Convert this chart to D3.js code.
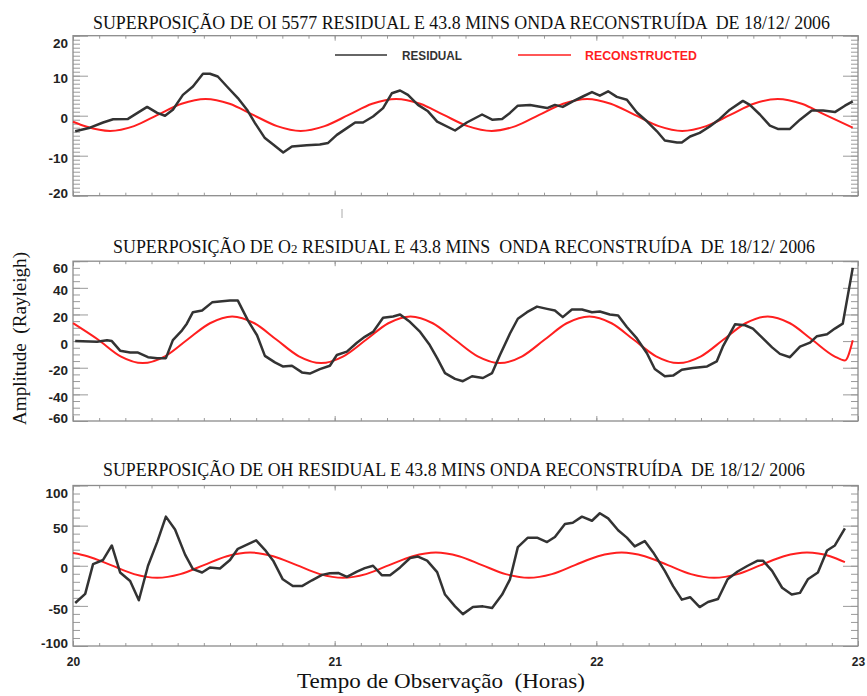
<!DOCTYPE html>
<html>
<head>
<meta charset="utf-8">
<script src="https://cdn.jsdelivr.net/npm/d3@7"></script>
<style>
  html, body { margin: 0; padding: 0; background: #fff; }
  svg text { white-space: pre; }
</style>
</head>
<body>
<div id="chart"></div>
<script>
// tempo em minutos depois das 20:00
const hourTicks = [20, 21, 22, 23];
const oiTicks = [-20, -10, 0, 10, 20];
const o2Ticks = [-60, -40, -20, 0, 20, 40, 60];
const ohTicks = [-100, -50, 0, 50, 100];

const oiTime = [0.5, 3.9, 6.9, 9.2, 12.6, 17.0, 19.3, 21.1, 22.9, 25.2, 27.5, 29.8, 31.4, 33.2, 35.3, 37.8, 39.9, 41.7, 44.0, 45.9, 48.2, 50.2, 53.6, 56.6, 58.5, 60.5, 62.8, 64.7, 66.5, 68.8, 71.1, 73.1, 75.0, 76.8, 79.1, 81.4, 83.5, 87.6, 90.3, 93.8, 96.1, 98.4, 100.2, 102.0, 104.8, 108.7, 110.5, 112.3, 114.6, 116.9, 119.0, 120.8, 122.7, 124.7, 127.0, 129.3, 131.6, 133.9, 135.7, 138.5, 139.6, 141.5, 143.7, 146.0, 148.3, 150.6, 153.6, 155.2, 157.5, 159.8, 161.6, 164.4, 166.7, 169.4, 172.0, 174.7, 177.0, 178.8];
const oiResidual = [-3.9, -3.0, -1.7, -0.9, -0.8, 2.2, 0.7, 0.0, 1.5, 5.2, 7.3, 10.5, 10.5, 9.8, 7.3, 4.4, 1.5, -1.8, -5.6, -7.2, -9.2, -7.7, -7.4, -7.2, -6.8, -4.8, -3.1, -1.7, -1.7, -0.2, 1.9, 5.6, 6.3, 5.2, 2.7, 1.1, -1.5, -3.7, -1.7, 0.3, -1.0, -0.8, 0.7, 2.5, 2.7, 1.9, 2.7, 2.2, 3.6, 4.8, 5.9, 5.0, 6.1, 4.7, 4.0, 0.8, -1.4, -3.9, -6.2, -6.7, -6.7, -5.2, -4.3, -2.7, -0.8, 1.5, 3.7, 2.7, 0.3, -2.5, -3.3, -3.3, -1.0, 1.3, 1.3, 0.9, 2.5, 3.6];
const oiReconTime = [0, 3.0, 8.5, 14.0, 19.4, 24.9, 30.4, 35.9, 41.3, 46.8, 52.2, 57.7, 63.2, 68.6, 74.1, 79.6, 85.0, 90.5, 96.0, 101.5, 106.9, 112.4, 117.9, 123.3, 128.8, 134.3, 139.7, 145.2, 150.7, 156.1, 161.6, 167.1, 172.5, 178.8];
const oiReconstructed = [-1.5, -2.7, -3.8, -2.6, 0.2, 3.0, 4.2, 3.0, 0.2, -2.6, -3.8, -2.6, 0.2, 3.0, 4.2, 3.0, 0.2, -2.6, -3.8, -2.6, 0.2, 3.0, 4.2, 3.0, 0.2, -2.6, -3.8, -2.6, 0.2, 3.0, 4.2, 3.0, 0.2, -3.0];

const o2Time = [0.5, 5.5, 7.8, 8.9, 10.8, 13.1, 14.9, 17.2, 19.3, 21.3, 22.9, 25.0, 26.1, 27.5, 29.6, 31.9, 34.2, 36.0, 37.8, 40.1, 42.2, 44.0, 46.3, 48.1, 50.2, 52.5, 54.3, 56.6, 58.9, 60.5, 62.8, 65.1, 66.9, 68.8, 71.1, 73.4, 75.0, 77.3, 79.6, 81.8, 83.5, 85.3, 87.6, 89.4, 91.5, 94.0, 96.1, 97.9, 100.2, 102.0, 104.1, 106.4, 108.7, 110.5, 112.3, 114.4, 116.7, 119.0, 120.8, 123.1, 125.0, 127.0, 129.3, 131.6, 133.4, 135.7, 137.6, 139.6, 142.1, 145.4, 147.6, 149.0, 151.8, 154.1, 155.9, 158.2, 160.3, 162.1, 164.4, 166.7, 169.0, 170.6, 172.9, 174.7, 176.5, 178.8];
const o2Residual = [0, -0.5, 0.7, 0, -7.2, -8.6, -8.6, -12.1, -12.8, -12.8, 0.7, 8.1, 13.1, 21.7, 23, 29.1, 29.9, 30.4, 30.4, 15.6, 4.4, -11.1, -16, -19, -18.5, -23.5, -24.4, -21, -18.5, -10.4, -7.9, -1.2, 3.2, 6.9, 17.5, 18.5, 20, 14.3, 6.9, -3, -12.8, -24, -28.4, -30.1, -26.4, -27.7, -24, -10.4, 5.7, 16.8, 21.7, 25.9, 24.2, 23, 18, 23.7, 23.7, 21.7, 22.2, 20, 19.3, 10.6, 2, -9.1, -21, -26.4, -25.9, -21.5, -20.2, -19, -15.3, -4.2, 12.6, 11.9, 9.4, 2, -4.7, -9.6, -12.1, -4.2, -1.2, 3.7, 5.2, 9.4, 13.1, 55];
const o2ReconTime = [0, 5.8, 10.9, 16.0, 21.1, 26.2, 31.4, 36.5, 41.6, 46.7, 51.8, 56.9, 62.0, 67.2, 72.3, 77.4, 82.5, 87.6, 92.8, 97.9, 103.0, 108.1, 113.2, 118.4, 123.5, 128.6, 133.7, 138.8, 144.0, 149.1, 154.2, 159.3, 164.4, 169.5, 174.6, 177.0, 178.8];
const o2Reconstructed = [13.5, 1, -11.4, -16.5, -11.4, 1, 13.4, 18.5, 13.4, 1, -11.4, -16.5, -11.4, 1, 13.4, 18.5, 13.4, 1, -11.4, -16.5, -11.4, 1, 13.4, 18.5, 13.4, 1, -11.4, -16.5, -11.4, 1, 13.4, 18.5, 13.4, 1, -11.4, -14.5, 0.7];

const ohTime = [0.5, 2.8, 4.6, 6.9, 8.9, 10.8, 13.1, 15.1, 17.2, 19.3, 21.3, 23.4, 25.7, 27.5, 29.6, 31.4, 33.7, 36.0, 37.8, 39.9, 42.0, 44.0, 45.9, 48.1, 50.4, 52.5, 54.8, 57.1, 58.9, 60.8, 62.8, 65.1, 66.9, 68.8, 70.8, 72.7, 75.0, 77.3, 79.1, 81.2, 83.5, 85.3, 87.6, 89.4, 91.7, 94.0, 96.1, 98.4, 100.2, 102.0, 104.3, 106.4, 108.7, 110.5, 112.8, 114.6, 116.7, 119.0, 120.8, 122.7, 125.0, 127.0, 128.8, 131.1, 133.0, 135.7, 137.6, 139.6, 141.5, 143.7, 145.6, 147.9, 150.1, 152.4, 154.7, 157.0, 158.2, 160.3, 162.6, 164.8, 166.7, 168.5, 170.8, 172.9, 174.7, 177.0];
const ohResidual = [-46.4, -35, 2.1, 7.2, 25.3, -8.4, -19, -43, 0, 29.5, 61.2, 45.2, 13.9, -4.2, -8.4, -2.1, -3.4, 7.2, 21.1, 26.2, 31.6, 19.8, 6.3, -16.9, -25.3, -25.3, -18.1, -11.4, -9.3, -8.9, -13.9, -7.2, -3, 0, -11.8, -11.8, -2.1, 9.7, 11.4, 6.3, -8, -35.9, -50.6, -60.3, -51.5, -50.6, -52.7, -35.9, -16.9, 23.2, 35, 35, 29.5, 35.9, 51.9, 53.6, 61.2, 56.1, 65.4, 59.1, 44.3, 35, 24.1, 30.8, 16.9, -6.3, -25.3, -42.2, -39.2, -51.5, -45.2, -41.4, -16.9, -7.2, 0, 6.3, 6.3, -6.3, -27.4, -35.9, -33.8, -16.9, -8.4, 19, 25.3, 46.5];
const ohReconTime = [0, 3.3, 8.7, 14.0, 19.3, 24.6, 30.0, 35.3, 40.6, 45.9, 51.3, 56.6, 61.9, 67.2, 72.5, 77.9, 83.2, 88.5, 93.8, 99.2, 104.5, 109.8, 115.1, 120.4, 125.8, 131.1, 136.4, 141.7, 147.0, 152.4, 157.7, 163.0, 168.3, 173.6, 177.0];
const ohReconstructed = [15.8, 11.9, 0.8, -10.4, -15, -10.4, 0.8, 11.9, 16.5, 11.9, 0.8, -10.4, -15, -10.4, 0.8, 11.9, 16.5, 11.9, 0.8, -10.4, -15, -10.4, 0.8, 11.9, 16.5, 11.9, 0.8, -10.4, -15, -10.4, 0.8, 11.9, 16.5, 11.9, 4.5];

const width = 867, height = 696;
const left = 73, right = 858;
const BLACK = "#333333", RED = "#ff1f1f", AXIS = "#9a9a9a";

const panels = [
    {
        title: ["SUPERPOSIÇÃO DE OI 5577 RESIDUAL E 43.8 MINS ONDA RECONSTRUÍDA  DE 18/12/ 2006"],
        tx: 93, tw: 737, ty: 29,
        ticks: oiTicks, minorStep: 1, top: 35.7, bottom: 195.7,
        resT: oiTime, res: oiResidual, recT: oiReconTime, rec: oiReconstructed
    },
    {
        title: ["SUPERPOSIÇÃO DE O", "2", " RESIDUAL E 43.8 MINS  ONDA RECONSTRUÍDA  DE 18/12/ 2006"],
        tx: 113, tw: 702, ty: 253,
        ticks: o2Ticks, minorStep: 5, top: 261.2, bottom: 421,
        resT: o2Time, res: o2Residual, recT: o2ReconTime, rec: o2Reconstructed
    },
    {
        title: ["SUPERPOSIÇÃO DE OH RESIDUAL E 43.8 MINS ONDA RECONSTRUÍDA  DE 18/12/ 2006"],
        tx: 103, tw: 702, ty: 476,
        ticks: ohTicks, minorStep: 10, top: 485.5, bottom: 646,
        resT: ohTime, res: ohResidual, recT: ohReconTime, rec: ohReconstructed
    }
];

const svg = d3.select("#chart").append("svg")
    .attr("width", width)
    .attr("height", height);

const x = d3.scaleLinear().domain([20, 23]).range([left, right]);
const minorHours = d3.range(20, 23.001, 0.1);

function styleAxis(sel) {
    sel.select(".domain").remove();
    sel.selectAll("line").attr("stroke", AXIS).attr("stroke-width", 1);
}

panels.forEach((p, i) => {
    const yMin = d3.min(p.ticks), yMax = d3.max(p.ticks);
    const y = d3.scaleLinear().domain([yMin, yMax]).range([p.bottom, p.top]);
    const minor = d3.range(yMin, yMax + 0.001, p.minorStep);
    const g = svg.append("g");

    // titulo
    const t = g.append("text")
        .attr("x", p.tx)
        .attr("y", p.ty)
        .attr("textLength", p.tw)
        .attr("lengthAdjust", "spacingAndGlyphs")
        .attr("font-family", "'Liberation Serif', 'Times New Roman', serif")
        .attr("font-size", "18px")
        .attr("fill", "#111");
    p.title.forEach((s, k) => {
        t.append("tspan")
            .attr("font-size", k === 1 ? "13px" : null)
            .text(s);
    });

    // eixo y esquerdo e direito
    g.append("g").attr("transform", `translate(${left},0)`)
        .call(d3.axisLeft(y).tickValues(minor).tickSize(-7).tickFormat(""))
        .call(styleAxis);
    g.append("g").attr("transform", `translate(${right},0)`)
        .call(d3.axisRight(y).tickValues(minor).tickSize(-7).tickFormat(""))
        .call(styleAxis);
    g.append("g").attr("transform", `translate(${right},0)`)
        .call(d3.axisRight(y).tickValues(p.ticks).tickSize(-15).tickFormat(""))
        .call(styleAxis);

    const yAxis = g.append("g").attr("transform", `translate(${left},0)`)
        .call(d3.axisLeft(y).tickValues(p.ticks).tickSize(-15).tickPadding(5).tickFormat(d => String(d)))
        .call(styleAxis);
    yAxis.selectAll("text")
        .attr("font-family", "'Liberation Sans', Arial, sans-serif")
        .attr("font-weight", "bold")
        .attr("font-size", "13.5px")
        .attr("fill", "#222")
        .attr("dy", d => d === yMax ? "0.87em" : d === yMin ? "0.1em" : "0.53em");

    // eixo x topo e base
    [[p.top, d3.axisTop], [p.bottom, d3.axisBottom]].forEach(([yy, ax]) => {
        g.append("g").attr("transform", `translate(0,${yy})`)
            .call(ax(x).tickValues(minorHours).tickSize(-3).tickFormat(""))
            .call(styleAxis);
        g.append("g").attr("transform", `translate(0,${yy})`)
            .call(ax(x).tickValues(hourTicks).tickSize(-5).tickFormat(""))
            .call(styleAxis);
    });

    if (i === panels.length - 1) {
        const xAxis = g.append("g").attr("transform", `translate(0,${p.bottom})`)
            .call(d3.axisBottom(x).tickValues(hourTicks).tickSize(0).tickPadding(11).tickFormat(d => String(d)))
            .call(styleAxis);
        xAxis.selectAll("text")
            .attr("font-family", "'Liberation Sans', Arial, sans-serif")
            .attr("font-weight", "bold")
            .attr("font-size", "12px")
            .attr("fill", "#222");
    }

    // moldura
    g.append("rect")
        .attr("x", left)
        .attr("y", p.top)
        .attr("width", right - left)
        .attr("height", p.bottom - p.top)
        .attr("fill", "none")
        .attr("stroke", "#8c8c8c")
        .attr("stroke-width", 1.3);

    const line = d3.line()
        .x(d => x(20 + d[0] / 60))
        .y(d => y(d[1]));

    g.append("path")
        .datum(d3.zip(p.recT, p.rec))
        .attr("fill", "none")
        .attr("stroke", RED)
        .attr("stroke-width", 2)
        .attr("d", line.curve(d3.curveMonotoneX));

    g.append("path")
        .datum(d3.zip(p.resT, p.res))
        .attr("fill", "none")
        .attr("stroke", BLACK)
        .attr("stroke-width", 2.5)
        .attr("stroke-linejoin", "round")
        .attr("d", line.curve(d3.curveLinear));
});

// legenda (so no primeiro painel)
const legend = svg.append("g");
legend.append("line").attr("x1", 335).attr("x2", 387).attr("y1", 55).attr("y2", 55)
    .attr("stroke", BLACK).attr("stroke-width", 1.6);
legend.append("text").attr("x", 402).attr("y", 59.5)
    .attr("textLength", 60).attr("lengthAdjust", "spacingAndGlyphs")
    .attr("font-family", "'Liberation Sans', Arial, sans-serif")
    .attr("font-weight", "bold").attr("font-size", "12.5px")
    .attr("fill", "#333").text("RESIDUAL");
legend.append("line").attr("x1", 518).attr("x2", 571).attr("y1", 55).attr("y2", 55)
    .attr("stroke", RED).attr("stroke-width", 1.6);
legend.append("text").attr("x", 585).attr("y", 59.5)
    .attr("textLength", 112).attr("lengthAdjust", "spacingAndGlyphs")
    .attr("font-family", "'Liberation Sans', Arial, sans-serif")
    .attr("font-weight", "bold").attr("font-size", "12.5px")
    .attr("fill", RED).text("RECONSTRUCTED");

// marca perdida entre os paineis
svg.append("line").attr("x1", 342).attr("x2", 342).attr("y1", 209).attr("y2", 218)
    .attr("stroke", "#aaa").attr("stroke-width", 1);

// rotulos dos eixos
svg.append("text")
    .attr("transform", "translate(26,338.5) rotate(-90)")
    .attr("text-anchor", "middle")
    .attr("textLength", 173).attr("lengthAdjust", "spacingAndGlyphs")
    .attr("font-family", "'Liberation Serif', 'Times New Roman', serif")
    .attr("font-size", "19px")
    .attr("fill", "#111")
    .text("Amplitude  (Rayleigh)");

svg.append("text")
    .attr("x", 441).attr("y", 688)
    .attr("text-anchor", "middle")
    .attr("textLength", 288).attr("lengthAdjust", "spacingAndGlyphs")
    .attr("font-family", "'Liberation Serif', 'Times New Roman', serif")
    .attr("font-size", "22px")
    .attr("fill", "#111")
    .text("Tempo de Observação  (Horas)");
</script>
</body>
</html>
